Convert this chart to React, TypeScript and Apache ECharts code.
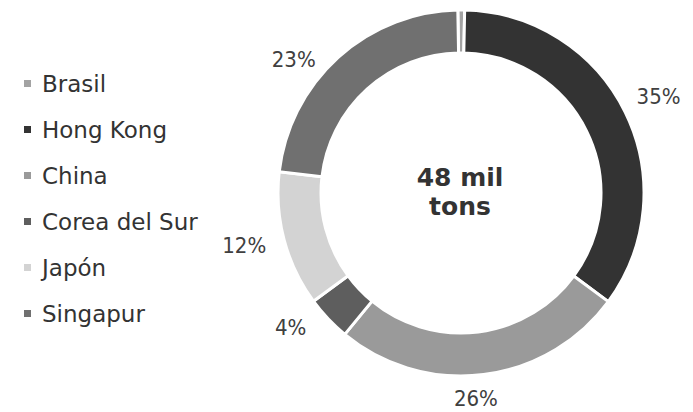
import React, { useEffect, useRef } from "react";
import * as echarts from "echarts";

const countries = ["Brasil", "Hong Kong", "China", "Corea del Sur", "Japón", "Singapur"];
const shares = [0.6, 35, 26, 4, 12, 23];
const colors = ["#a3a3a3", "#333333", "#9a9a9a", "#5e5e5e", "#d3d3d3", "#707070"];
// label nudges (styling only)
const labelOffsets = [[0, 0], [0, 0], [-14, -11], [-14, -15], [-8, -3], [-23, 28]];
const centerText = "48 mil\ntons";

export default function App() {
  const ref = useRef<HTMLDivElement>(null);
  useEffect(() => {
    if (!ref.current) return;
    const chart = echarts.init(ref.current, null, { renderer: "svg" });
    const data = countries.map((name, i) => ({
      name,
      value: shares[i],
      itemStyle: { color: colors[i] },
    }));
    chart.setOption({
      animation: false,
      backgroundColor: "#ffffff",
      legend: {
        orient: "vertical",
        left: 22,
        top: 72,
        padding: 0,
        itemWidth: 9,
        itemHeight: 9,
        itemGap: 23,
        icon: "rect",
        data: countries,
        textStyle: {
          fontFamily: "'DejaVu Sans', sans-serif",
          fontSize: 23,
          color: "#333333",
          padding: [0, 0, 0, 5],
        },
      },
      graphic: [
        {
          type: "text",
          x: 460,
          y: 192,
          style: {
            text: centerText,
            textAlign: "center",
            textVerticalAlign: "middle",
            fontFamily: "'DejaVu Sans', sans-serif",
            fontWeight: "bold",
            fontSize: 25,
            lineHeight: 29,
            fill: "#333333",
          },
        },
      ],
      series: [
        {
          type: "pie",
          center: [461, 193],
          radius: [140, 183],
          startAngle: 91,
          clockwise: true,
          avoidLabelOverlap: false,
          label: { show: false },
          labelLine: { show: false },
          itemStyle: { borderColor: "#ffffff", borderWidth: 3 },
          emphasis: { disabled: true },
          data,
        },
        {
          type: "pie",
          silent: true,
          center: [463, 193],
          radius: [204, 226],
          startAngle: 91,
          clockwise: true,
          avoidLabelOverlap: false,
          itemStyle: { color: "rgba(0,0,0,0)" },
          label: {
            show: true,
            position: "inside",
            fontFamily: "'DejaVu Sans Condensed', 'DejaVu Sans', sans-serif",
            fontSize: 22,
            color: "#404040",
            formatter: (p: any) => (p.value < 1 ? "" : `${p.value}%`),
          },
          labelLine: { show: false },
          emphasis: { disabled: true },
          data: countries.map((name, i) => ({
            name,
            value: shares[i],
            label: { offset: labelOffsets[i] },
          })),
        },
      ],
    });
    return () => chart.dispose();
  }, []);
  return (
    <div
      ref={ref}
      style={{ position: "fixed", left: 0, top: 0, width: 693, height: 412 }}
    />
  );
}
